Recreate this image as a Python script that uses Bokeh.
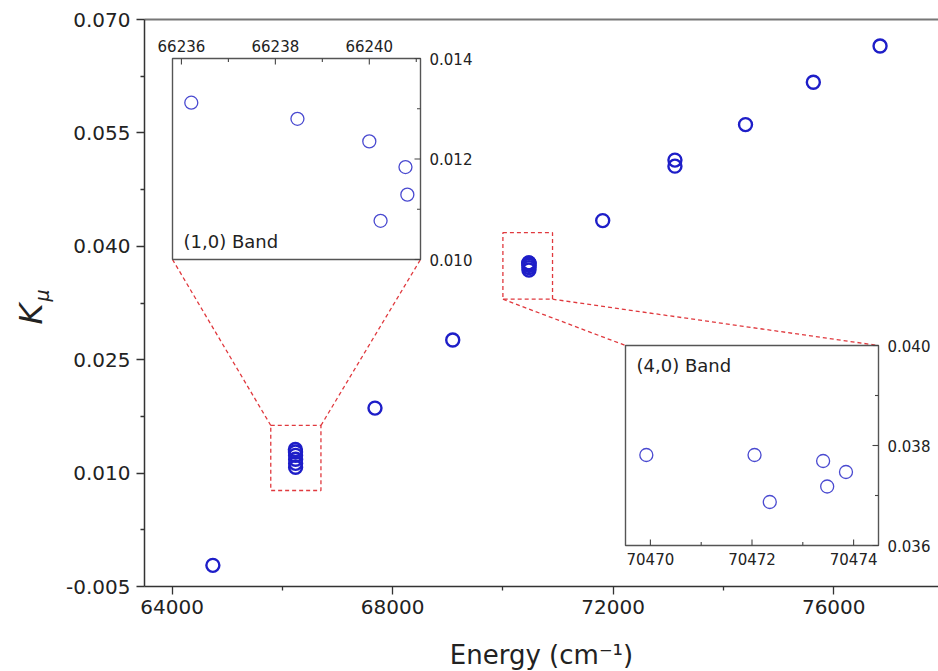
import math

from bokeh.core.properties import value
from bokeh.embed import file_html
from bokeh.layouts import column, row
from bokeh.models import FixedTicker, LinearAxis, PrintfTickFormatter, Range1d
from bokeh.plotting import figure
from bokeh.resources import INLINE

# ---------------------------------------------------------------- data
# K_mu sensitivity coefficients of the (v',0) bands
band_energy = [64740, 67680, 69090, 71810, 73120, 73120, 74400, 75630, 76840]
band_kmu = [-0.0022, 0.0186, 0.0276, 0.0434, 0.0514, 0.0506, 0.0561, 0.0617, 0.0665]

# individual lines of the (1,0) band
b10_energy = [66236.21, 66238.47, 66240.00, 66240.77, 66240.81, 66240.24]
b10_kmu = [0.01312, 0.01280, 0.01235, 0.01184, 0.01129, 0.01077]

# individual lines of the (4,0) band
b40_energy = [70469.92, 70472.05, 70472.35, 70473.40, 70473.48, 70473.85]
b40_kmu = [0.03781, 0.03781, 0.03687, 0.03769, 0.03718, 0.03747]

# ticks
x_ticks = [64000, 68000, 72000, 76000]
x_minor = [66000, 70000, 74000]
y_ticks = [-0.005, 0.010, 0.025, 0.040, 0.055, 0.070]
y_minor = [0.0025, 0.0175, 0.0325, 0.0475, 0.0625]

b10_xticks = [66236, 66238, 66240]
b10_xminor = [66237, 66239, 66241]
b10_yticks = [0.010, 0.012, 0.014]
b10_yminor = [0.011, 0.013]

b40_xticks = [70470, 70472, 70474]
b40_xminor = [70471, 70473]
b40_yticks = [0.036, 0.038, 0.040]
b40_yminor = [0.037, 0.039]

x_title = "Energy (cm\u207b\u00b9)"

# ---------------------------------------------------------------- layout
W, H = 938, 671
LAB_W = 60                                   # strip holding the y title
BOT_H = 30                                   # strip holding the x title
FL, FR, FT, FB = 144, 938, 19, 586           # frame edges in page pixels
X0, X1 = 63500, 77900
Y0, Y1 = -0.005, 0.070

# insets: pixel rectangle (left, top, right, bottom) and data window
INSET1_PX = (172, 58, 420, 259)
INSET1_X = (66235.81, 66241.09)
INSET1_Y = (0.010, 0.014)
INSET2_PX = (625, 345, 878, 545)
INSET2_X = (70469.51, 70474.49)
INSET2_Y = (0.036, 0.040)

# dashed zoom windows in main data units
ZOOM1 = (65790, 66700, 0.0077, 0.0163)
ZOOM2 = (70000, 70900, 0.0330, 0.0418)

FONT = value("DejaVu Sans")
TEXT_COLOR = "#222222"
RED = "#e0393e"
MAIN_BLUE = "#1e1ec8"
INSET_BLUE = "#4a4ad0"


def mx(px):
    return X0 + (px - FL) * (X1 - X0) / (FR - FL)


def my(py):
    return Y1 - (py - FT) * (Y1 - Y0) / (FB - FT)


def blank_strip(w, h):
    f = figure(width=w, height=h, x_range=Range1d(0, w), y_range=Range1d(h, 0),
               output_backend="svg", toolbar_location=None,
               x_axis_type=None, y_axis_type=None,
               min_border_left=0, min_border_right=0,
               min_border_top=0, min_border_bottom=0)
    f.outline_line_color = None
    f.grid.visible = False
    f.background_fill_color = "white"
    f.border_fill_color = "white"
    return f


MAIN_H = H - BOT_H
p = figure(width=W - LAB_W, height=MAIN_H,
           x_range=Range1d(X0, X1), y_range=Range1d(Y0, Y1),
           output_backend="svg", toolbar_location=None,
           min_border_left=FL - LAB_W, min_border_right=W - FR,
           min_border_top=FT, min_border_bottom=MAIN_H - FB)
p.outline_line_color = None
p.grid.visible = False
p.background_fill_color = "white"
p.border_fill_color = "white"

# main axes
for ax in (p.xaxis[0], p.yaxis[0]):
    ax.axis_line_color = "#333333"
    ax.axis_line_width = 1.5
    ax.major_tick_line_color = "#333333"
    ax.minor_tick_line_color = "#333333"
    ax.major_tick_line_width = 1.3
    ax.minor_tick_line_width = 1.3
    ax.major_tick_in = 0
    ax.major_tick_out = 8
    ax.minor_tick_in = 0
    ax.minor_tick_out = 4
    ax.major_label_text_font = "DejaVu Sans"
    ax.major_label_text_font_size = "20px"
    ax.major_label_text_color = TEXT_COLOR

p.xaxis.ticker = FixedTicker(ticks=x_ticks, minor_ticks=x_minor)
p.xaxis.formatter = PrintfTickFormatter(format="%d")
p.xaxis.major_label_standoff = 5

p.yaxis.ticker = FixedTicker(ticks=y_ticks, minor_ticks=y_minor)
p.yaxis.formatter = PrintfTickFormatter(format="%.3f")
p.yaxis.major_label_standoff = 6

# top frame line
top = LinearAxis(ticker=FixedTicker(ticks=[]), major_label_text_font_size="0px",
                 axis_line_color="#777777", axis_line_width=2,
                 major_tick_line_color=None, minor_tick_line_color=None)
p.add_layout(top, "above")

# main data
all_x = band_energy + b10_energy + b40_energy
all_y = band_kmu + b10_kmu + b40_kmu
p.scatter(all_x, all_y, marker="circle", size=13, fill_color=None,
          line_color=MAIN_BLUE, line_width=2.4)

# dashed zoom windows
for (xa, xb, ya, yb) in (ZOOM1, ZOOM2):
    p.quad(left=xa, right=xb, bottom=ya, top=yb, fill_color=None,
           line_color=RED, line_width=1.3, line_dash="4 3")

# connectors from zoom windows to insets
l1, t1, r1, b1 = INSET1_PX
l2, t2, r2, b2 = INSET2_PX
p.segment(x0=[ZOOM1[0], ZOOM1[1], ZOOM2[0], ZOOM2[1]],
          y0=[ZOOM1[3], ZOOM1[3], ZOOM2[2], ZOOM2[2]],
          x1=[mx(l1), mx(r1), mx(l2), mx(r2)],
          y1=[my(b1), my(b1), my(t2), my(t2)],
          line_color=RED, line_width=1.3, line_dash="4 3")


def add_inset(name, rect, xr, yr, xs, ys, xticks, xminor, yticks, yminor,
              label, label_top, ticks_on_top):
    L, T, R, B = rect
    sx = (R - L) / (xr[1] - xr[0])
    sy = (B - T) / (yr[1] - yr[0])
    p.extra_x_ranges[name] = Range1d(xr[0] - (L - FL) / sx, xr[1] + (FR - R) / sx)
    p.extra_y_ranges[name] = Range1d(yr[0] - (FB - B) / sy, yr[1] + (T - FT) / sy)
    kw = dict(x_range_name=name, y_range_name=name)

    p.quad(left=xr[0], right=xr[1], bottom=yr[0], top=yr[1],
           fill_color="white", line_color="#555555", line_width=1.4, **kw)

    # ticks pointing inward
    major, minor = 6.0, 3.5
    xedge = yr[1] if ticks_on_top else yr[0]
    sgn = -1 if ticks_on_top else 1
    tx = xticks + xminor
    tl = [major] * len(xticks) + [minor] * len(xminor)
    p.segment(x0=tx, y0=[xedge] * len(tx), x1=tx,
              y1=[xedge + sgn * l / sy for l in tl],
              line_color="#444444", line_width=1.1, **kw)
    ty = yticks + yminor
    tl = [major] * len(yticks) + [minor] * len(yminor)
    p.segment(x0=[xr[1]] * len(ty), y0=ty, x1=[xr[1] - l / sx for l in tl], y1=ty,
              line_color="#444444", line_width=1.1, **kw)

    # tick labels
    ylab = xedge - sgn * 13 / sy
    p.text(x=xticks, y=[ylab] * len(xticks), text=[str(t) for t in xticks],
           text_font=FONT, text_font_size="15px", text_color=TEXT_COLOR,
           text_align="center", text_baseline="middle", **kw)
    p.text(x=[xr[1] + 9 / sx] * len(yticks), y=yticks,
           text=["%.3f" % t for t in yticks],
           text_font=FONT, text_font_size="15px", text_color=TEXT_COLOR,
           text_align="left", text_baseline="middle", **kw)

    # band name
    ly = yr[1] - 20 / sy if label_top else yr[0] + 18 / sy
    p.text(x=[xr[0] + 11 / sx], y=[ly], text=[label], text_font=FONT,
           text_font_size="18px", text_color=TEXT_COLOR,
           text_align="left", text_baseline="middle", **kw)

    p.scatter(xs, ys, marker="circle", size=13, fill_color=None,
              line_color=INSET_BLUE, line_width=1.3, **kw)


add_inset("b10", INSET1_PX, INSET1_X, INSET1_Y, b10_energy, b10_kmu,
          b10_xticks, b10_xminor, b10_yticks, b10_yminor,
          "(1,0) Band", label_top=False, ticks_on_top=True)
add_inset("b40", INSET2_PX, INSET2_X, INSET2_Y, b40_energy, b40_kmu,
          b40_xticks, b40_xminor, b40_yticks, b40_yminor,
          "(4,0) Band", label_top=True, ticks_on_top=False)

# y title: italic K with subscript mu, reading bottom to top
ylab = blank_strip(LAB_W, MAIN_H)
ylab.text(x=[30], y=[333], text=["K"], angle=math.pi / 2,
          text_font=FONT, text_font_style="italic", text_font_size="32px",
          text_color=TEXT_COLOR, text_align="center", text_baseline="middle")
ylab.text(x=[41], y=[312], text=["\u03bc"], angle=math.pi / 2,
          text_font=FONT, text_font_style="italic", text_font_size="19px",
          text_color=TEXT_COLOR, text_align="center", text_baseline="middle")

# x title
xlab = blank_strip(W, BOT_H)
xlab.text(x=[(FL + FR) / 2], y=[13], text=[x_title], text_font=FONT,
          text_font_size="26px", text_color=TEXT_COLOR,
          text_align="center", text_baseline="middle")

page = column(row(ylab, p, spacing=0), xlab, spacing=0)
open("out.html", "w").write(file_html(page, INLINE))
